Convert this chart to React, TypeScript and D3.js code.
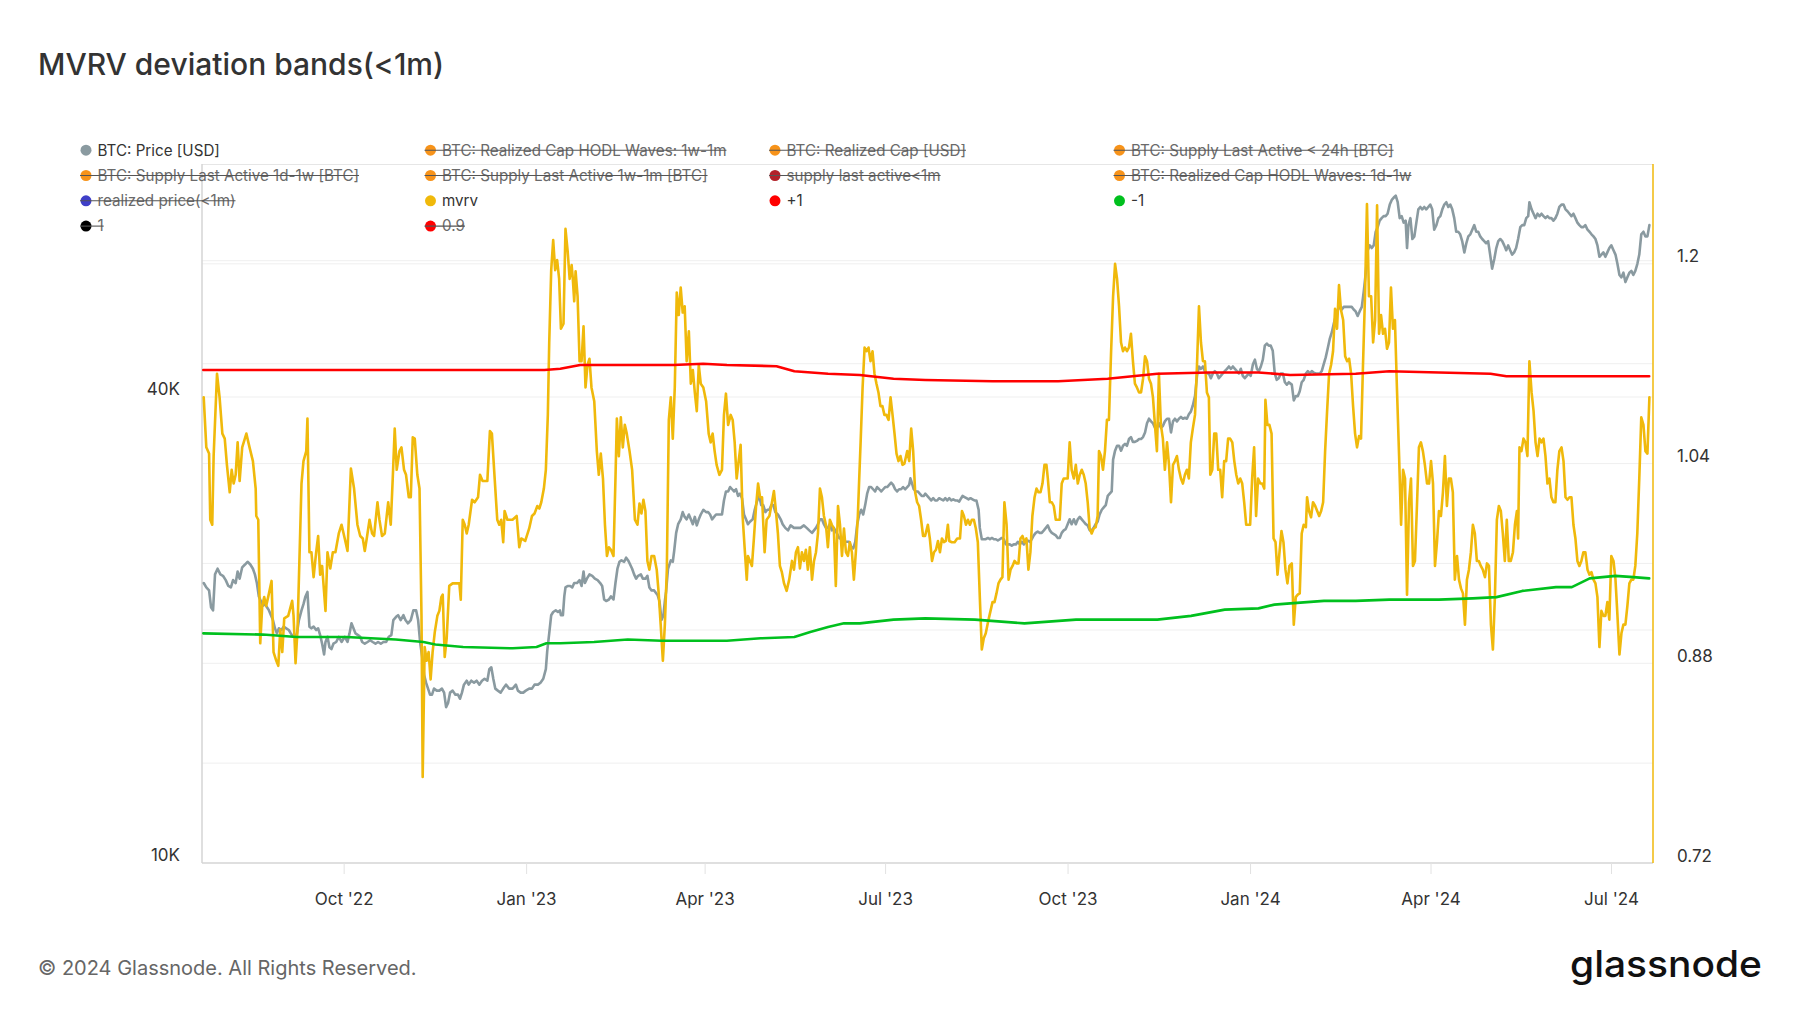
import { useEffect, useRef } from "react";
import * as d3 from "d3";

const W = 1800;
const H = 1013;
const START = Date.UTC(2022, 6, 22);

const TITLE = "MVRV deviation bands(<1m)";
const FOOTER = "© 2024 Glassnode. All Rights Reserved.";

const legendLabels = [
  "BTC: Price [USD]", "BTC: Realized Cap HODL Waves: 1w-1m", "BTC: Realized Cap [USD]", "BTC: Supply Last Active < 24h [BTC]",
  "BTC: Supply Last Active 1d-1w [BTC]", "BTC: Supply Last Active 1w-1m [BTC]", "supply last active<1m", "BTC: Realized Cap HODL Waves: 1d-1w",
  "realized price(<1m)", "mvrv", "+1", "-1",
  "1", "0.9",
];
const legendColors = [
  "#8a9aa0", "#f7931a", "#f7931a", "#f7931a",
  "#f7931a", "#f7931a", "#b2222a", "#f7931a",
  "#3f3fc8", "#f0b90b", "#ff0000", "#00c01e",
  "#000000", "#ff0000",
];
const legendHidden = [false, true, true, true, true, true, true, true, true, false, false, false, true, true];

const leftTicks = [10, 40];
const leftGrid = [20, 40, 60];
const rightTicks = [0.72, 0.88, 1.04, 1.2];
const rightGrid = [0.8, 0.88, 0.96, 1.04, 1.12, 1.2];

// [day since 2022-07-22, price in K USD]
const priceK: [number, number][] = [
  [0.2,23.0],[1.5,22.7],[2.9,22.5],[3.9,21.4],[4.9,21.2],[5.9,23.6],[7.2,24.0],[8.6,23.6],[9.9,23.5],[11.3,23.2],[12.6,22.8],[13.9,22.7],[15.0,23.2],[16.3,23.0],[17.3,23.8],[18.3,23.3],[19.6,24.1],[21.0,24.3],[22.3,24.5],[23.7,24.3],[25.0,24.0],[26.0,23.6],[27.0,23.0],[28.0,22.1],[29.0,21.8],[30.0,21.5],[31.1,21.6],[32.1,21.4],[33.1,21.2],[34.1,20.9],[35.1,20.6],[36.1,20.1],[37.1,19.8],[38.1,20.1],[39.4,20.0],[40.5,20.2],[41.8,20.1],[43.1,20.0],[44.1,19.8],[45.2,19.6],[46.2,19.6],[47.2,19.8],[48.2,20.6],[49.5,21.2],[50.5,21.6],[51.5,22.1],[52.5,22.4],[53.5,20.2],[54.5,20.1],[55.6,20.2],[56.9,20.0],[57.9,20.1],[58.9,19.7],[59.9,19.2],[60.9,18.6],[61.6,19.3],[62.6,19.6],[63.6,19.0],[64.6,18.9],[65.6,19.2],[67.0,19.3],[68.3,19.6],[69.7,19.3],[71.3,19.6],[72.7,19.3],[73.7,19.8],[74.7,20.4],[75.7,20.1],[76.7,19.8],[78.0,19.7],[79.1,19.6],[80.1,19.3],[81.4,19.2],[82.8,19.3],[84.1,19.4],[85.4,19.3],[86.8,19.2],[88.1,19.3],[89.5,19.2],[90.8,19.3],[92.2,19.3],[93.5,19.6],[94.8,19.7],[95.8,20.6],[97.2,20.8],[98.2,20.9],[99.5,20.6],[100.9,20.9],[101.9,20.6],[103.2,20.4],[104.6,20.6],[105.9,21.2],[107.3,21.2],[108.3,20.6],[109.3,19.3],[110.3,18.5],[111.3,17.5],[112.3,17.1],[113.3,16.8],[114.3,16.5],[115.3,16.5],[116.3,16.8],[117.7,16.7],[119.0,16.7],[120.3,16.8],[121.4,16.6],[122.4,15.9],[123.4,16.1],[124.4,16.6],[125.7,16.7],[127.1,16.5],[128.4,16.5],[129.4,16.3],[130.4,16.6],[131.4,17.0],[132.8,17.2],[133.8,17.0],[135.1,17.2],[136.5,17.1],[137.8,17.2],[139.2,17.0],[140.5,17.2],[141.8,17.3],[143.2,17.2],[144.2,17.8],[145.2,17.9],[146.2,17.3],[147.2,16.8],[148.5,16.7],[149.9,16.6],[151.2,16.8],[152.6,17.0],[154.2,16.8],[155.9,16.8],[157.6,17.0],[158.6,16.7],[160.0,16.6],[161.3,16.6],[162.6,16.7],[164.3,16.8],[165.7,16.8],[167.0,17.0],[168.7,17.0],[170.0,17.1],[171.4,17.3],[172.7,17.8],[173.4,18.8],[174.4,19.8],[175.4,20.9],[176.4,21.1],[177.7,21.2],[178.8,21.1],[179.8,21.2],
  [180.3,20.9],[181.3,20.9],[182.0,22.1],[182.6,22.7],[183.7,22.8],[185.0,22.8],[186.0,22.7],[187.0,23.0],[188.4,23.0],[189.7,23.2],[190.7,22.8],[191.7,23.8],[192.4,23.0],[193.4,23.3],[194.7,23.6],[196.1,23.5],[197.4,23.3],[198.8,23.2],[200.1,23.0],[201.1,22.8],[202.1,21.9],[203.1,21.8],[204.5,21.9],[205.5,22.1],[206.8,21.9],[207.8,23.0],[208.8,24.0],[209.8,24.5],[210.8,24.6],[212.2,24.5],[213.2,24.8],[214.2,24.6],[215.2,24.3],[216.2,24.0],[217.2,23.6],[218.2,23.3],[219.2,23.5],[220.6,23.6],[221.6,23.3],[222.9,23.3],[223.9,23.5],[224.9,22.7],[226.0,22.5],[227.3,22.5],[229.0,22.2],[230.0,21.8],[231.0,20.6],[232.0,20.9],[232.7,21.8],[233.3,22.4],[234.3,24.0],[235.7,24.6],[236.7,24.5],[237.4,25.3],[238.4,26.7],[239.4,27.4],[240.7,27.8],[241.7,28.4],[242.7,28.0],[243.7,27.8],[244.8,28.2],[245.8,27.8],[246.8,27.4],[247.8,28.0],[248.8,27.3],[249.8,27.8],[250.8,28.2],[252.1,28.6],[253.5,28.4],[254.5,28.4],[255.5,28.2],[256.5,27.8],[257.5,28.0],[258.5,28.2],[259.5,28.2],[260.5,28.2],[261.5,28.2],[262.5,29.4],[263.5,30.2],[264.6,30.2],[265.6,30.6],[266.6,30.4],[267.6,30.2],[268.6,30.4],[269.6,29.8],[270.6,30.0],[271.6,29.6],[272.6,28.2],[273.6,27.8],[274.6,27.4],[275.6,27.6],[277.0,27.8],[278.0,28.6],[279.3,29.4],[280.3,29.8],[281.3,29.0],[282.3,29.0],[283.4,28.4],[284.4,28.6],[285.4,28.6],[286.4,29.0],[287.4,29.0],[288.4,28.4],[289.7,28.2],[291.1,27.8],[292.1,27.4],[293.4,27.1],[294.8,26.9],[296.1,27.3],[297.8,27.1],[299.5,27.1],[301.1,27.1],[302.8,27.3],[304.2,27.1],[305.5,26.9],[306.9,26.7],[307.9,26.9],[308.9,27.1],[309.9,27.4],[310.9,27.8],[311.9,27.8],[312.9,27.4],[313.9,27.1],[314.9,27.1],[315.9,27.4],[316.9,26.9],[317.9,27.1],[319.3,26.7],[320.6,26.3],[322.0,26.2],[323.0,26.0],[324.3,26.0],[325.6,26.0],[326.7,25.6],[327.7,25.5],[328.7,26.0],[329.7,27.4],[330.7,28.2],[331.7,28.6],[332.7,28.2],[333.7,29.0],[334.7,30.0],[335.7,30.6],[336.7,30.6],[337.7,30.4],[338.7,30.2],[339.7,30.6],[340.8,30.4],[341.8,30.2],[342.8,30.4],[343.8,30.6],[344.8,30.6],[345.8,30.8],[346.8,31.0],[347.8,30.8],[348.8,30.4],[349.8,30.2],[350.8,30.4],[351.8,30.4],[352.8,30.6],[353.9,30.4],[354.9,30.6],[355.9,30.8],[356.5,31.4],[357.2,31.0],[358.2,30.4],[359.2,30.2],[360.2,30.2],[361.2,30.0],[362.2,29.8],[363.2,29.8],
  [364.0,30.0],[365.0,29.8],[366.0,29.6],[367.0,29.4],[368.0,29.6],[369.0,29.4],[370.0,29.4],[371.0,29.6],[372.1,29.5],[373.1,29.4],[374.1,29.6],[375.1,29.4],[376.1,29.6],[377.1,29.4],[378.1,29.5],[379.1,29.4],[380.1,29.4],[381.1,29.3],[382.1,29.6],[382.8,29.8],[383.8,29.7],[384.8,29.6],[385.8,29.5],[386.8,29.6],[387.8,29.5],[388.8,29.4],[389.8,29.4],[390.9,28.6],[391.5,27.1],[392.5,26.2],[393.5,26.2],[394.5,26.2],[395.6,26.3],[396.6,26.2],[397.6,26.3],[398.6,26.2],[399.6,26.2],[400.6,26.1],[401.6,26.2],[402.6,26.3],[403.6,26.2],[404.6,25.8],[405.6,25.8],[406.6,25.8],[407.6,25.7],[408.6,25.8],[409.7,25.8],[410.7,26.0],[411.7,25.8],[412.7,26.0],[413.7,25.8],[414.7,26.0],[415.7,26.1],[416.7,26.0],[417.7,26.2],[418.7,26.5],[419.7,26.7],[420.7,26.8],[421.7,26.7],[422.7,26.7],[423.8,26.9],[424.8,27.1],[425.8,27.3],[426.8,26.9],[427.8,26.7],[428.8,26.6],[429.8,26.5],[430.8,26.3],[431.8,26.3],[432.8,26.7],[433.8,26.9],[434.8,27.0],[435.8,27.4],[436.8,27.8],[437.8,27.4],[438.9,27.8],[439.9,27.4],[440.9,27.8],[441.9,28.0],[442.9,27.8],[443.9,27.6],[444.9,27.4],[445.9,27.3],[446.9,26.9],[447.9,26.9],[448.9,27.1],[449.9,27.4],[450.9,27.6],[451.9,28.2],[453.0,28.6],[454.0,28.8],[455.0,29.0],[456.0,29.8],[457.0,30.0],[458.0,30.2],[458.7,33.2],[459.7,34.1],[460.7,34.6],[461.7,34.6],[462.7,34.1],[463.7,34.6],[464.7,34.8],[465.7,34.6],[466.7,35.3],[467.7,35.5],[468.7,35.0],[469.7,35.0],[470.7,35.1],[471.8,35.3],[472.8,35.3],[473.8,35.5],[474.8,36.0],[475.8,37.0],[476.8,37.5],[477.8,37.2],[478.8,37.0],[479.8,36.5],[480.8,36.5],[481.8,37.0],[482.8,36.5],[483.8,36.7],[484.8,37.2],[485.9,37.5],[486.9,37.5],[487.9,36.0],[488.9,37.2],[489.9,37.5],[490.9,37.2],[491.9,37.5],[492.9,37.7],[493.9,37.5],[494.9,37.6],[495.9,37.5],[496.9,38.0],[497.9,38.3],[498.9,39.0],[500.0,40.1],[501.0,42.6],[502.0,43.8],[503.0,43.5],[504.0,43.8],[505.0,43.2],[506.0,42.9],[507.0,42.9],[508.0,42.3],[509.0,42.9],[510.0,43.2],[511.0,42.9],[512.0,42.3],[513.0,42.6],[514.0,42.9],[515.0,43.2],[516.1,43.5],[517.1,43.8],[518.1,43.5],[519.1,43.8],[520.1,43.5],[521.1,43.2],[522.1,42.9],[523.1,43.5],[524.1,42.6],[525.1,42.3],[526.1,42.6],[527.1,42.9],[528.1,42.6],[529.2,44.1],[530.2,44.7],[531.2,43.5],[532.2,43.2],[533.2,43.8],[534.2,44.7],[535.2,46.6],[536.2,46.9],[537.2,46.6],[538.2,46.6],[539.2,45.9],[540.2,42.9],[541.2,42.1],[542.2,42.3],[543.3,42.9],[544.3,42.9],[545.3,41.8],[546.3,41.5],[547.3,41.8],
  [548.8,41.5],[549.8,39.6],[550.8,40.1],[551.8,40.1],[552.8,40.7],[553.8,41.8],[554.8,42.1],[555.9,42.9],[556.9,43.2],[557.9,42.9],[558.9,43.2],[559.9,43.0],[560.9,42.9],[561.9,42.9],[562.9,42.9],[563.9,43.2],[564.9,44.1],[565.9,45.0],[566.9,46.2],[567.9,47.5],[569.0,48.5],[570.0,49.8],[571.0,50.9],[572.0,51.9],[573.0,52.3],[574.0,51.9],[575.0,52.3],[576.0,52.3],[577.0,52.3],[578.0,52.3],[579.0,52.3],[580.0,51.9],[581.0,51.6],[582.0,50.9],[583.0,51.6],[584.1,52.3],[585.1,54.8],[586.1,57.9],[587.1,61.9],[588.1,62.8],[589.1,62.3],[590.1,62.8],[591.1,65.4],[592.1,66.3],[593.1,67.6],[594.1,68.1],[595.1,68.5],[596.1,68.5],[597.1,69.0],[598.2,70.9],[599.2,71.9],[600.2,72.4],[601.2,72.8],[602.2,71.4],[603.2,68.1],[604.2,68.5],[605.2,67.2],[606.2,67.6],[606.9,62.3],[607.6,66.7],[608.6,68.1],[609.6,64.0],[610.6,64.5],[611.6,67.2],[612.6,69.9],[613.6,70.4],[614.6,69.9],[615.6,70.4],[616.6,69.9],[617.6,70.4],[618.6,70.9],[619.6,69.9],[620.6,65.8],[621.7,66.7],[622.7,68.1],[623.7,68.5],[624.7,69.9],[625.7,70.9],[626.7,71.4],[627.7,70.4],[628.7,70.9],[629.7,69.9],[630.7,68.1],[631.7,65.4],[632.7,65.4],[633.7,64.9],[634.7,63.6],[635.8,61.5],[636.8,63.2],[637.8,64.5],[638.8,64.9],[639.8,65.8],[640.8,66.7],[641.8,65.4],[642.8,65.4],[643.8,64.5],[644.8,64.0],[645.8,63.6],[646.8,63.2],[647.8,63.6],[648.8,61.1],[649.8,58.6],[650.9,60.3],[651.9,62.3],[652.9,63.6],[653.9,64.0],[654.9,63.6],[655.9,62.8],[656.9,61.9],[657.9,62.8],[658.9,61.9],[659.9,61.1],[660.9,61.5],[661.9,62.3],[662.9,64.0],[664.0,66.3],[665.0,66.7],[666.0,66.7],[667.0,68.1],[668.0,68.5],[668.6,71.4],[669.7,69.9],[670.7,69.0],[671.7,68.1],[672.7,69.0],[673.7,68.5],[674.7,69.0],[675.7,68.5],[676.7,68.1],[677.7,68.5],[678.7,68.1],[679.7,68.1],[680.7,67.6],[681.7,68.1],[682.7,69.0],[683.7,70.4],[684.8,70.9],[685.8,70.9],[686.8,69.9],[687.8,69.5],[688.8,69.0],[689.8,68.5],[690.8,69.0],[691.8,68.1],[692.8,67.2],[693.8,66.7],[694.8,66.3],[695.8,66.3],[696.8,66.7],[697.9,65.8],[698.9,65.4],[699.9,64.9],[700.9,64.5],[701.9,64.0],[702.9,62.8],[703.9,60.7],[704.9,61.1],[705.9,61.5],[706.9,60.7],[707.9,61.5],[708.9,62.3],[709.9,62.8],[711.0,61.9],[712.0,61.1],[713.0,59.4],[714.0,57.5],[715.0,57.1],[716.0,57.9],[717.0,56.3],[718.0,57.1],[719.0,57.9],[720.0,58.2],[721.0,57.5],[722.0,58.2],[723.0,59.4],[724.0,61.1],[725.0,64.9],[726.1,65.4],[727.1,64.5],[728.1,64.5],[729.1,66.7],
];

// [day since 2022-07-22, mvrv (<1m)]
const mvrv: [number, number][] = [
  [0.2,1.093],[1.5,1.053],[2.9,1.048],[3.5,0.995],[4.5,0.991],[5.2,1.046],[6.9,1.112],[8.2,1.093],[9.6,1.064],[10.8,1.060],[11.9,1.039],[13.3,1.017],[14.3,1.035],[15.3,1.024],[16.3,1.031],[17.3,1.057],[18.3,1.026],[19.6,1.053],[21.7,1.064],[23.3,1.053],[25.0,1.042],[26.4,1.020],[26.7,0.998],[27.7,0.995],[28.7,0.896],[29.7,0.926],[30.7,0.933],[31.7,0.926],[33.1,0.936],[34.4,0.946],[35.4,0.889],[36.8,0.882],[37.8,0.878],[38.8,0.907],[39.8,0.889],[40.8,0.916],[42.8,0.918],[44.8,0.930],[45.5,0.918],[46.5,0.880],[47.5,0.907],[49.5,1.024],[50.5,1.042],[51.9,1.050],[52.5,1.076],[53.5,0.969],[54.5,0.969],[55.6,0.949],[56.9,0.969],[57.9,0.982],[58.9,0.951],[59.9,0.958],[61.6,0.922],[62.6,0.969],[64.0,0.956],[65.3,0.969],[66.6,0.969],[68.3,0.984],[69.7,0.991],[71.3,0.980],[72.7,0.970],[74.4,1.036],[76.0,1.020],[77.7,0.991],[79.1,0.982],[80.4,0.980],[81.4,0.970],[82.4,0.980],[83.8,0.995],[85.1,0.984],[86.1,0.982],[87.8,1.009],[88.8,0.995],[90.1,0.982],[91.5,0.984],[93.2,1.009],[94.5,0.991],[95.5,1.028],[96.5,1.068],[97.5,1.035],[98.9,1.050],[99.9,1.053],[101.2,1.035],[102.2,1.031],[103.6,1.013],[104.6,1.013],[105.6,1.061],[106.6,1.060],[107.9,1.031],[109.0,1.020],[110.0,0.918],[110.6,0.789],[111.6,0.893],[112.6,0.882],[113.6,0.889],[114.6,0.867],[115.6,0.889],[116.7,0.905],[118.0,0.918],[119.0,0.922],[120.0,0.933],[120.7,0.935],[121.7,0.885],[122.7,0.900],[124.0,0.942],[125.7,0.944],[129.1,0.944],[129.8,0.931],[130.8,0.995],[131.8,0.991],[132.8,0.984],[133.8,0.991],[135.5,1.011],[136.8,1.009],[138.5,1.013],[139.5,1.031],[140.8,1.026],[143.2,1.026],[144.5,1.066],[145.5,1.064],[146.9,1.028],[148.2,0.995],[149.2,0.991],[150.2,0.995],[151.2,0.977],[151.9,1.002],[153.3,0.995],[155.9,0.995],[158.0,0.998],[159.3,0.973],[160.3,0.980],[162.3,0.978],[164.3,0.988],[165.7,0.998],[167.0,1.000],[168.4,1.006],[169.4,1.004],[170.4,1.009],[171.7,1.020],[172.7,1.035],[173.7,1.079],[174.4,1.137],[175.4,1.195],[176.4,1.219],[177.4,1.195],[178.4,1.203],[179.4,1.188],
  [180.3,1.148],[181.6,1.152],[182.6,1.228],[183.7,1.210],[184.7,1.188],[185.7,1.199],[186.3,1.188],[187.0,1.170],[187.7,1.194],[188.7,1.174],[189.7,1.122],[190.7,1.122],[191.7,1.150],[192.7,1.101],[193.7,1.119],[194.7,1.124],[195.7,1.101],[197.1,1.090],[198.4,1.050],[199.4,1.031],[200.4,1.048],[201.5,1.028],[202.5,0.991],[203.5,0.966],[204.5,0.973],[205.5,0.971],[206.8,0.966],[207.8,1.028],[208.5,1.076],[209.5,1.046],[210.5,1.077],[211.5,1.053],[212.5,1.071],[213.5,1.064],[214.9,1.050],[216.2,1.035],[217.6,0.995],[218.9,0.991],[219.9,1.008],[220.9,1.000],[221.9,1.011],[222.9,1.002],[223.9,0.962],[224.9,0.955],[226.0,0.966],[227.3,0.966],[228.6,0.955],[229.6,0.936],[230.6,0.911],[231.7,0.882],[232.7,0.911],[233.7,0.955],[234.7,1.075],[235.7,1.093],[236.7,1.060],[237.7,1.101],[238.7,1.177],[239.7,1.159],[240.7,1.181],[241.7,1.161],[242.7,1.166],[243.7,1.122],[244.8,1.146],[245.8,1.104],[246.8,1.115],[247.8,1.097],[248.8,1.082],[249.8,1.119],[250.8,1.104],[252.1,1.101],[253.5,1.090],[254.8,1.064],[255.8,1.057],[256.8,1.064],[257.8,1.050],[258.8,1.039],[260.2,1.031],[261.5,1.035],[262.5,1.079],[263.5,1.096],[264.6,1.071],[265.9,1.079],[266.9,1.075],[267.9,1.057],[268.9,1.028],[269.9,1.042],[270.9,1.055],[271.9,0.998],[272.9,0.973],[274.0,0.947],[274.6,0.966],[275.6,0.962],[276.6,0.958],[277.6,0.980],[278.7,1.006],[279.7,1.024],[280.7,1.013],[281.7,1.013],[283.0,0.969],[284.0,0.995],[285.4,0.998],[286.7,1.009],[287.7,1.018],[288.7,1.002],[289.7,0.984],[290.7,0.958],[291.7,0.953],[292.8,0.944],[294.1,0.938],[295.4,0.947],[296.8,0.962],[297.8,0.955],[298.8,0.969],[299.8,0.973],[300.8,0.956],[301.8,0.969],[302.8,0.962],[303.8,0.971],[304.8,0.955],[305.8,0.973],[306.9,0.947],[307.9,0.962],[308.9,0.969],[309.9,0.984],[310.9,1.020],[311.9,1.013],[312.9,0.998],[313.9,0.991],[314.9,0.973],[315.9,0.995],[316.9,0.991],[317.9,0.988],[318.9,0.942],[320.0,1.006],[321.0,0.991],[322.0,0.966],[323.0,0.988],[324.0,0.969],[325.0,0.966],[326.0,0.977],[327.0,0.969],[328.0,0.947],[329.0,0.969],[330.0,0.998],[330.7,1.028],[331.4,1.057],[332.4,1.101],[333.4,1.133],[334.4,1.130],[335.4,1.133],[336.4,1.122],[337.4,1.130],[338.4,1.112],[339.4,1.104],[340.4,1.097],[341.4,1.086],[342.4,1.086],[343.4,1.079],[344.4,1.079],[345.5,1.075],[346.5,1.093],[347.5,1.079],[348.5,1.064],[349.5,1.048],[350.5,1.042],[351.5,1.046],[352.5,1.039],[353.5,1.040],[354.9,1.050],[355.9,1.042],[356.9,1.068],[357.9,1.050],[358.9,1.017],[359.9,1.009],[360.9,1.006],[361.9,0.995],[362.9,0.982],[363.9,0.982],
  [365.3,0.991],[366.3,0.980],[367.4,0.962],[368.4,0.969],[369.4,0.971],[370.4,0.978],[371.4,0.969],[372.4,0.980],[373.4,0.977],[374.4,0.978],[375.4,0.991],[376.1,0.978],[377.4,0.977],[378.8,0.977],[380.1,0.980],[381.5,0.980],[382.5,1.002],[383.5,0.998],[384.5,0.991],[385.5,0.995],[386.5,0.991],[387.5,0.995],[388.5,0.995],[389.5,0.988],[390.5,0.977],[391.5,0.933],[392.5,0.891],[393.5,0.900],[394.5,0.904],[395.9,0.915],[396.9,0.922],[397.9,0.929],[398.9,0.929],[399.9,0.936],[400.9,0.944],[401.9,0.947],[402.9,0.949],[403.9,1.009],[405.0,0.991],[406.0,0.947],[407.0,0.955],[408.0,0.958],[409.0,0.962],[410.0,0.960],[411.0,0.960],[412.0,0.980],[413.0,0.982],[414.0,0.977],[415.0,0.980],[416.0,0.955],[417.0,0.969],[418.0,0.998],[419.1,1.013],[420.1,1.020],[421.1,1.017],[422.1,1.017],[423.1,1.024],[424.1,1.039],[425.1,1.039],[425.8,1.028],[426.8,1.009],[427.8,1.009],[428.8,1.006],[429.8,0.995],[430.8,0.995],[431.8,0.995],[432.8,1.024],[433.8,1.028],[434.8,1.028],[435.8,1.028],[436.8,1.057],[437.8,1.035],[438.9,1.028],[439.9,1.039],[440.9,1.024],[441.9,1.031],[442.9,1.035],[443.9,1.031],[444.9,1.024],[445.9,1.009],[446.9,0.988],[447.9,0.984],[448.9,0.988],[449.9,0.989],[450.9,0.998],[451.6,1.050],[452.6,1.046],[453.6,1.035],[454.6,1.050],[455.6,1.075],[456.6,1.075],[457.7,1.130],[458.7,1.174],[459.7,1.200],[460.7,1.188],[461.7,1.166],[462.7,1.137],[463.7,1.130],[464.7,1.133],[465.7,1.130],[466.7,1.133],[467.7,1.144],[468.7,1.122],[469.7,1.104],[470.7,1.101],[471.8,1.097],[472.8,1.097],[473.8,1.108],[474.8,1.126],[475.8,1.122],[476.8,1.108],[477.8,1.104],[478.8,1.093],[479.8,1.071],[480.8,1.050],[481.8,1.112],[482.8,1.071],[483.8,1.060],[484.8,1.035],[485.9,1.057],[486.9,1.039],[487.9,1.009],[488.9,1.039],[489.9,1.042],[490.9,1.046],[491.9,1.035],[492.9,1.028],[493.9,1.024],[494.9,1.031],[495.9,1.035],[496.9,1.028],[497.9,1.057],[498.9,1.068],[500.0,1.079],[501.0,1.119],[502.0,1.166],[503.0,1.137],[504.0,1.122],[505.0,1.122],[506.0,1.097],[507.0,1.093],[507.7,1.031],[508.7,1.035],[509.7,1.064],[510.7,1.064],[511.7,1.035],[512.7,1.035],[513.7,1.013],[514.7,1.042],[515.7,1.042],[516.7,1.060],[517.7,1.060],[518.8,1.057],[519.8,1.042],[520.8,1.031],[521.8,1.024],[522.8,1.028],[523.8,1.024],[524.8,1.009],[525.8,0.991],[526.8,0.991],[527.8,0.991],[528.8,1.028],[529.8,1.053],[530.8,0.998],[531.8,1.028],[532.9,1.024],[533.9,1.024],[534.9,1.020],[535.5,1.091],[536.5,1.071],[537.5,1.071],[538.6,1.064],[539.6,0.980],[540.6,0.977],[541.6,0.951],[542.6,0.969],[543.6,0.986],[544.6,0.977],[545.6,0.955],[546.6,0.944],[547.6,0.958],
  [548.8,0.960],[549.8,0.911],[550.8,0.933],[551.8,0.935],[552.8,0.936],[553.8,0.984],[554.8,0.991],[555.9,0.989],[556.5,1.013],[557.5,1.002],[558.5,0.997],[559.5,1.009],[560.6,1.006],[561.6,1.002],[562.6,0.998],[563.6,1.002],[564.6,1.009],[565.6,1.050],[566.6,1.082],[567.6,1.112],[568.6,1.119],[569.6,1.130],[570.6,1.164],[571.6,1.148],[572.6,1.183],[573.6,1.163],[574.7,1.155],[575.7,1.126],[576.7,1.122],[577.7,1.124],[578.7,1.112],[579.7,1.086],[580.7,1.064],[581.7,1.053],[582.7,1.062],[583.7,1.060],[584.7,1.119],[585.7,1.174],[586.7,1.248],[587.7,1.174],[588.8,1.174],[589.8,1.137],[590.8,1.155],[591.8,1.247],[592.8,1.144],[593.8,1.159],[594.8,1.144],[595.8,1.148],[596.8,1.132],[597.8,1.137],[598.8,1.181],[599.8,1.148],[600.8,1.155],[601.8,1.101],[602.9,1.046],[603.9,0.991],[604.9,1.035],[605.9,1.028],[606.9,0.935],[607.9,1.009],[608.9,1.028],[609.9,0.958],[610.9,0.962],[611.9,1.006],[612.9,1.053],[613.9,1.057],[614.9,1.050],[615.9,1.039],[617.0,1.024],[618.0,1.024],[619.0,1.042],[620.0,1.024],[621.0,0.958],[622.0,0.977],[623.0,1.002],[624.0,0.998],[625.0,1.017],[626.0,1.046],[627.0,1.006],[628.0,1.028],[629.0,1.028],[630.0,1.017],[631.0,0.947],[632.1,0.966],[633.1,0.947],[634.1,0.940],[635.1,0.936],[636.1,0.911],[637.1,0.947],[638.1,0.955],[639.1,0.969],[640.1,0.991],[641.1,0.984],[642.1,0.962],[643.1,0.962],[644.1,0.958],[645.1,0.955],[646.2,0.949],[647.2,0.960],[648.2,0.958],[649.2,0.911],[650.2,0.891],[651.2,0.933],[652.2,0.995],[653.2,1.006],[654.2,1.002],[655.2,0.984],[656.2,0.962],[657.2,0.995],[658.2,0.962],[659.2,0.962],[660.3,0.969],[661.3,0.991],[662.3,1.002],[662.9,0.980],[663.6,1.053],[664.6,1.050],[665.6,1.060],[666.6,1.057],[667.6,1.046],[668.6,1.122],[669.7,1.097],[670.7,1.082],[671.7,1.057],[672.7,1.046],[673.7,1.060],[674.7,1.057],[675.7,1.060],[676.7,1.046],[677.7,1.024],[678.7,1.028],[679.7,1.013],[680.7,1.009],[681.7,1.009],[682.7,1.035],[683.7,1.050],[684.8,1.053],[685.8,1.042],[686.8,1.013],[687.8,1.011],[688.8,1.013],[689.8,1.013],[690.8,0.991],[691.8,0.980],[692.8,0.962],[693.8,0.958],[694.8,0.962],[695.8,0.969],[696.8,0.969],[697.9,0.955],[698.9,0.951],[699.9,0.953],[700.9,0.947],[701.9,0.944],[702.9,0.933],[703.9,0.893],[704.9,0.922],[705.9,0.918],[706.9,0.918],[707.9,0.929],[708.9,0.915],[709.9,0.966],[711.0,0.962],[712.0,0.947],[713.0,0.918],[714.0,0.887],[715.0,0.904],[716.0,0.911],[717.0,0.911],[718.0,0.926],[719.0,0.944],[720.0,0.947],[721.0,0.947],[722.0,0.958],[723.0,0.984],[724.0,1.028],[725.0,1.077],[726.1,1.071],[727.1,1.050],[728.1,1.048],[729.1,1.093],
];

// +1 / -1 deviation bands
const plusOne: [number, number][] = [
  [0,1.115],[60,1.115],[120,1.115],[172,1.115],[180,1.116],[190,1.119],[214,1.119],[237,1.119],[252,1.120],[264,1.119],[289,1.118],[298,1.114],[315,1.112],[331,1.111],[348,1.108],[364,1.107],[398,1.106],[431,1.106],[456,1.108],[481,1.112],[507,1.113],[532,1.113],[548,1.111],[581,1.112],[598,1.114],[623,1.113],[649,1.112],[657,1.110],[690,1.110],[729,1.110],
];
const minusOne: [number, number][] = [
  [0,0.904],[30,0.903],[47,0.901],[72,0.901],[97,0.899],[111,0.897],[117,0.895],[131,0.893],[156,0.892],[168,0.893],[173,0.896],[180,0.896],[197,0.897],[214,0.899],[231,0.898],[264,0.898],[281,0.900],[298,0.901],[306,0.905],[315,0.909],[323,0.912],[331,0.912],[348,0.915],[364,0.916],[389,0.915],[414,0.912],[440,0.915],[465,0.915],[481,0.915],[498,0.918],[515,0.923],[532,0.924],[540,0.927],[548,0.928],[565,0.930],[581,0.930],[598,0.931],[623,0.931],[640,0.932],[652,0.933],[665,0.938],[682,0.941],[690,0.941],[699,0.948],[712,0.950],[721,0.949],[729,0.948],
];

const FONT = "Inter, 'Noto Sans', sans-serif";

function draw(el: SVGSVGElement) {
  const svg = d3.select(el);
  svg.selectAll("*").remove();

  const m = { left: 202, right: 1653, top: 164, bottom: 863 };
  const toDate = (d: number) => new Date(START + d * 864e5);
  const x = d3.scaleUtc()
    .domain([new Date(Date.UTC(2022, 6, 21, 8)), new Date(Date.UTC(2024, 6, 21, 22))])
    .range([m.left, m.right]);
  const yL = d3.scaleLog().domain([10, 80]).range([m.bottom, m.top]);
  const yR = d3.scaleLinear().domain([0.72, 1.28]).range([m.bottom, m.top]);

  svg.append("rect").attr("width", W).attr("height", H).attr("fill", "#fff");

  svg.append("text")
    .attr("x", 38).attr("y", 75)
    .attr("font-family", FONT).attr("font-size", 30).attr("font-weight", 500)
    .attr("fill", "#333").text(TITLE);

  // grid
  const grid = svg.append("g").attr("stroke", "#efefef").attr("stroke-width", 1);
  rightGrid.forEach(v => grid.append("line").attr("x1", m.left).attr("x2", m.right).attr("y1", yR(v)).attr("y2", yR(v)));
  leftGrid.forEach(v => grid.append("line").attr("x1", m.left).attr("x2", m.right).attr("y1", yL(v)).attr("y2", yL(v)));

  // frame
  svg.append("line").attr("x1", m.left).attr("x2", m.right).attr("y1", m.top + 0.5).attr("y2", m.top + 0.5).attr("stroke", "#e6e6e6");
  svg.append("line").attr("x1", m.left).attr("x2", m.left).attr("y1", m.top).attr("y2", m.bottom).attr("stroke", "#d4d4d4").attr("stroke-width", 1.5);
  svg.append("line").attr("x1", m.left).attr("x2", m.right).attr("y1", m.bottom).attr("y2", m.bottom).attr("stroke", "#d4d4d4").attr("stroke-width", 1.5);

  // x axis
  const ticks = x.ticks(d3.utcMonth.every(3)!);
  const fmt = d3.utcFormat("%b '%y");
  const xa = svg.append("g");
  ticks.forEach(t => {
    xa.append("line").attr("x1", x(t)).attr("x2", x(t)).attr("y1", m.bottom).attr("y2", m.bottom + 11).attr("stroke", "#e2e2e2");
    xa.append("text").attr("x", x(t)).attr("y", 905).attr("text-anchor", "middle")
      .attr("font-family", FONT).attr("font-size", 17).attr("fill", "#333").text(fmt(t));
  });

  // y axes
  leftTicks.forEach(v => svg.append("text").attr("x", 180).attr("y", yL(v) - 2.3).attr("text-anchor", "end")
    .attr("font-family", FONT).attr("font-size", 17).attr("fill", "#333").text(`${v}K`));
  rightTicks.forEach(v => svg.append("text").attr("x", 1677).attr("y", yR(v) - 1.5)
    .attr("font-family", FONT).attr("font-size", 17).attr("fill", "#333").text(String(v)));

  // series
  const lineL = d3.line<[number, number]>().x(d => x(toDate(d[0]))).y(d => yL(d[1]));
  const lineR = d3.line<[number, number]>().x(d => x(toDate(d[0]))).y(d => yR(d[1]));
  const series: [string, string, [number, number][], boolean][] = [
    ["price", "#8a9aa0", priceK, true],
    ["mvrv", "#f0b90b", mvrv, false],
    ["plus", "#ff0000", plusOne, false],
    ["minus", "#00c01e", minusOne, false],
  ];
  series.forEach(([, color, data, left]) => {
    svg.append("path").attr("d", (left ? lineL : lineR)(data))
      .attr("fill", "none").attr("stroke", color).attr("stroke-width", 2.6)
      .attr("stroke-linejoin", "round").attr("stroke-linecap", "round");
  });

  svg.append("line").attr("x1", m.right).attr("x2", m.right).attr("y1", m.top).attr("y2", m.bottom)
    .attr("stroke", "#f0b90b").attr("stroke-width", 1.5);

  // legend
  const lg = svg.append("g");
  legendLabels.forEach((label, i) => {
    const col = i % 4, row = Math.floor(i / 4);
    const cx = 86 + col * 344.5, cy = 150.2 + row * 25.3;
    lg.append("circle").attr("cx", cx).attr("cy", cy).attr("r", 5.5).attr("fill", legendColors[i]);
    const t = lg.append("text").attr("x", cx + 11.5).attr("y", cy + 5.3)
      .attr("font-family", FONT).attr("font-size", 15.2)
      .attr("fill", legendHidden[i] ? "#6a6a6a" : "#333").text(label);
    if (legendHidden[i]) {
      const len = (t.node() as SVGTextElement).getComputedTextLength();
      lg.append("line").attr("x1", cx - 6).attr("x2", cx + 11.5 + len).attr("y1", cy).attr("y2", cy)
        .attr("stroke", "#555").attr("stroke-width", 1.1);
    }
  });

  // footer
  svg.append("text").attr("x", 38).attr("y", 975)
    .attr("font-family", FONT).attr("font-size", 20).attr("fill", "#666").text(FOOTER);
  svg.append("text").attr("x", 1570).attr("y", 977)
    .attr("font-family", FONT).attr("font-size", 37).attr("font-weight", 500)
    .attr("textLength", 192).attr("lengthAdjust", "spacingAndGlyphs")
    .attr("fill", "#111").text("glassnode");
}

function App() {
  const ref = useRef<SVGSVGElement | null>(null);
  useEffect(() => {
    if (ref.current) draw(ref.current);
  }, []);
  return (
    <div>
      <style>{"body{margin:0}"}</style>
      <svg ref={ref} width={W} height={H} style={{ display: "block" }} />
    </div>
  );
}

export default App;
